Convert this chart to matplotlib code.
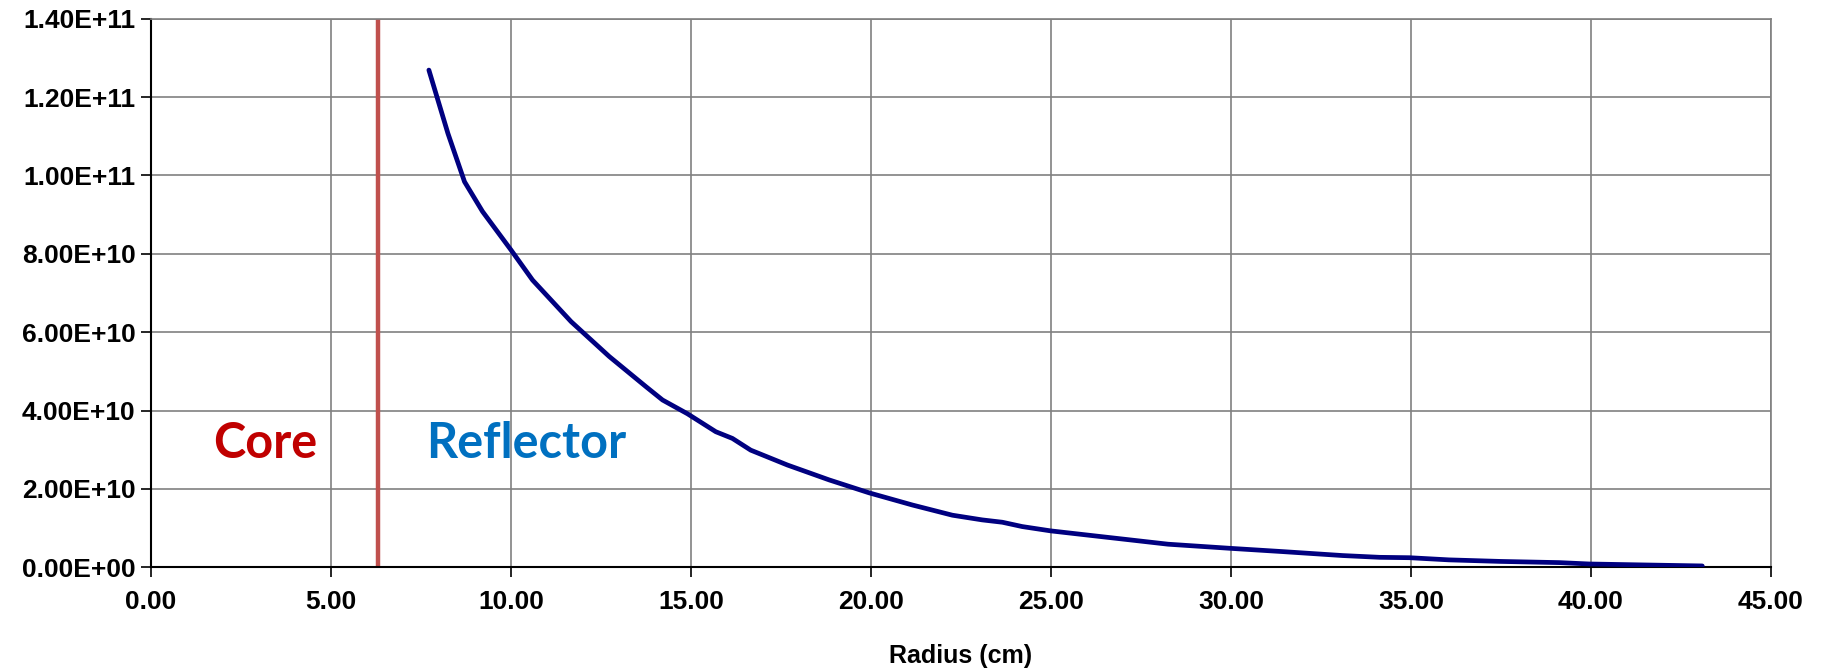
import matplotlib.pyplot as plt
from matplotlib.ticker import FormatStrFormatter, MultipleLocator

# flux vs radius
radius = [7.72, 8.25, 8.71, 9.21, 10.0, 10.6, 11.67, 12.73, 13.75, 14.21, 14.9,
          15.69, 16.15, 16.66, 17.68, 18.84, 19.95, 21.15, 22.26, 23.09, 23.65,
          24.2, 24.99, 26.33, 27.1, 28.25, 29.97, 31.45, 33.1, 34.13, 34.96,
          36.05, 37.5, 39.12, 39.95, 41.5, 43.09]
flux = [12.69, 11.07, 9.84, 9.08, 8.10, 7.33, 6.27, 5.38, 4.61, 4.27, 3.92,
        3.46, 3.29, 2.99, 2.61, 2.23, 1.90, 1.59, 1.33, 1.21, 1.15,
        1.04, 0.93, 0.79, 0.71, 0.59, 0.485, 0.40, 0.30, 0.255, 0.245,
        0.19, 0.15, 0.12, 0.085, 0.06, 0.035]
flux = [v * 1e10 for v in flux]

core_edge = 6.3
region_labels = ['Core', 'Reflector']
region_x = [3.16, 10.43]

fig = plt.figure(figsize=(18.23, 6.69), dpi=100)
ax = fig.add_axes([0.0828, 0.152, 0.8887, 0.820])

ax.plot(radius, flux, color='#000080', linewidth=3.4, solid_capstyle='round',
        solid_joinstyle='round', zorder=3)
ax.axvline(core_edge, color='#C0504D', linewidth=3.2, zorder=2)

ax.text(region_x[0], 3.15e10, region_labels[0], color='#C00000', fontsize=35,
        fontweight='bold', family='Lato', ha='center', va='center')
ax.text(region_x[1], 3.15e10, region_labels[1], color='#0070C0', fontsize=35,
        fontweight='bold', family='Lato', ha='center', va='center')

ax.set_xlim(0, 45)
ax.set_ylim(0, 1.4e11)
ax.xaxis.set_major_locator(MultipleLocator(5))
ax.yaxis.set_major_locator(MultipleLocator(2e10))
ax.xaxis.set_major_formatter(FormatStrFormatter('%.2f'))
ax.yaxis.set_major_formatter(FormatStrFormatter('%.2E'))

ax.grid(True, color='#808080', linewidth=1.2)
ax.set_axisbelow(True)
for side in ['top', 'right']:
    ax.spines[side].set_color('#808080')
    ax.spines[side].set_linewidth(1.2)
for side in ['left', 'bottom']:
    ax.spines[side].set_color('black')
    ax.spines[side].set_linewidth(1.5)

ax.tick_params(direction='out', length=7, width=1.2, pad=4)
for lbl in ax.get_xticklabels() + ax.get_yticklabels():
    lbl.set_family('Liberation Sans')
    lbl.set_fontweight('bold')
    lbl.set_fontsize(19)
ax.tick_params(axis='x', pad=9)

ax.set_xlabel('Radius (cm)', family='Liberation Sans', fontweight='bold', fontsize=18, labelpad=22)

fig.savefig('out.png', dpi=100)
